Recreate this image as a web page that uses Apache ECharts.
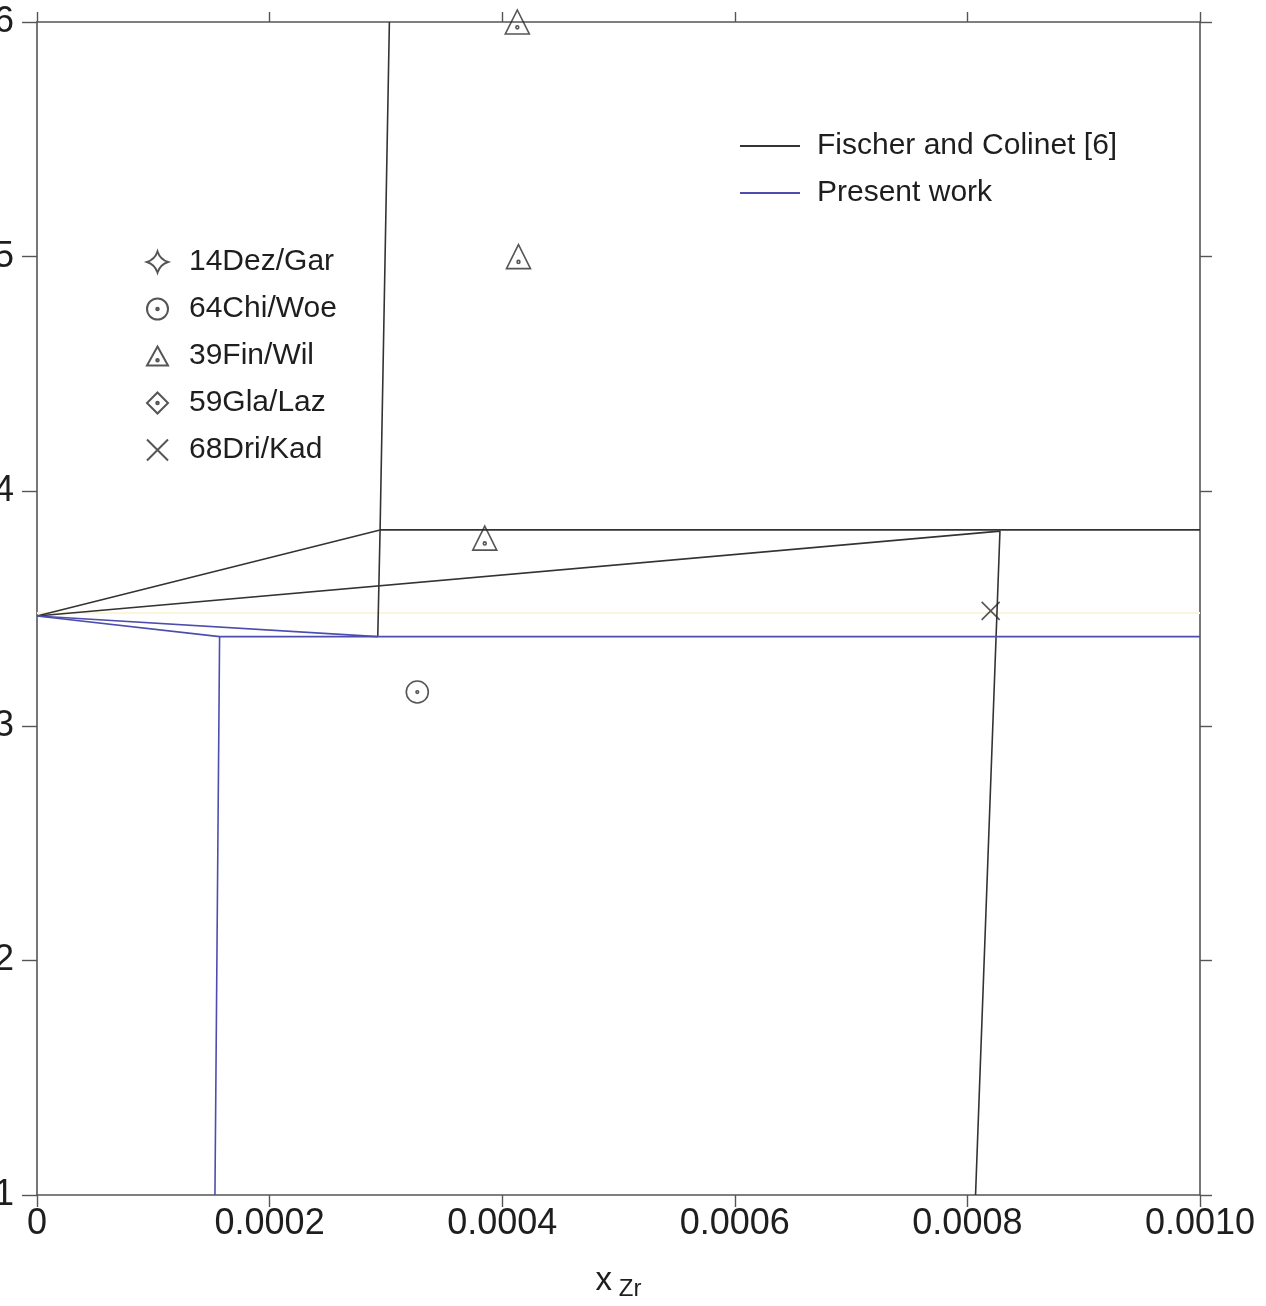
<!DOCTYPE html>
<html lang="en">
<head>
    <meta charset="UTF-8">
    <title>x Zr</title>
    <script src="https://cdn.jsdelivr.net/npm/echarts@6/dist/echarts.min.js"></script>
    <style>
        html, body { margin: 0; padding: 0; background: #fff; }
        #chart { width: 1266px; height: 1306px; }
    </style>
</head>
<body>
<div id="chart"></div>
<script type="text/javascript">
    // axis ticks
    var xTicks = [0, 0.0002, 0.0004, 0.0006, 0.0008, 0.0010];
    var yTicks = [1, 2, 3, 4, 5, 6];

    // Fischer and Colinet [6] - phase boundaries
    var fcVertical = [[0.000303, 6.0], [0.000295, 3.835], [0.000293, 3.38]];
    var fcUpper = [[0, 3.468], [0.000295, 3.835], [0.0010, 3.835]];
    var fcMiddle = [[0, 3.468], [0.000828, 3.83], [0.000807, 1.0]];

    // Present work
    var pwLower = [[0, 3.468], [0.000293, 3.38]];
    var pwLeft = [[0, 3.468], [0.000157, 3.38], [0.000153, 1.0]];
    var pwFlat = [[0.000157, 3.38], [0.0010, 3.38]];

    // faint line near 3.48
    var faintLine = [[0, 3.481], [0.0010, 3.481]];

    // experimental points
    var dezGar = [];
    var chiWoe = [[0.000327, 3.144]];
    var finWil = [[0.000413, 6.0], [0.000414, 5.0], [0.000385, 3.80]];
    var glaLaz = [];
    var driKad = [[0.000820, 3.49]];

    var lineNames = ['Fischer and Colinet [6]', 'Present work'];
    var pointNames = ['14Dez/Gar', '64Chi/Woe', '39Fin/Wil', '59Gla/Laz', '68Dri/Kad'];

    var symStar = 'path://M0,-10 Q2.5,-2.5 10,0 Q2.5,2.5 0,10 Q-2.5,2.5 -10,0 Q-2.5,-2.5 0,-10Z';
    var symCircleDot = 'path://M0,-10A10,10 0 1,1 0,10A10,10 0 1,1 0,-10Z M0,-1.2A1.2,1.2 0 1,1 0,1.2A1.2,1.2 0 1,1 0,-1.2Z';
    var symTriDot = 'path://M0,-10L10,8L-10,8Z M0,1.8A1.2,1.2 0 1,1 0,4.2A1.2,1.2 0 1,1 0,1.8Z';
    var symDiamondDot = 'path://M0,-10L10,0L0,10L-10,0Z M0,-1.2A1.2,1.2 0 1,1 0,1.2A1.2,1.2 0 1,1 0,-1.2Z';
    var symCross = 'path://M-8,-8L8,8M8,-8L-8,8';

    var darkLine = '#333333';
    var blueLine = '#4d4db0';
    var textColor = '#1e1e1e';
    var font = "'Liberation Sans', Arial, sans-serif";

    var myChart = echarts.init(document.getElementById('chart'));

    function lineSeries(name, data, color) {
        return {
            name: name,
            type: 'line',
            data: data,
            symbol: 'none',
            silent: true,
            lineStyle: { color: color, width: 1.6 },
            itemStyle: { color: color },
            z: 3
        };
    }

    function pointSeries(name, data, symbol, size) {
        return {
            name: name,
            type: 'scatter',
            data: data,
            symbol: symbol,
            symbolSize: size,
            clip: true,
            itemStyle: { color: 'rgba(0,0,0,0)', borderColor: '#2a2a2a', borderWidth: 1.6 },
            z: 5
        };
    }

    function frameAxis(pos, len) {
        return {
            type: 'value',
            position: pos,
            axisLine: { show: true, onZero: false, lineStyle: { color: '#555', width: 1.6 } },
            axisTick: { show: true, inside: false, length: len, lineStyle: { color: '#555', width: 1.4 } },
            axisLabel: { show: false },
            splitLine: { show: false }
        };
    }

    var xBottom = frameAxis('bottom', 12);
    xBottom.min = xTicks[0];
    xBottom.max = xTicks[xTicks.length - 1];
    xBottom.interval = 0.0002;
    xBottom.name = '{x|x}  {s|Zr}';
    xBottom.nameLocation = 'middle';
    xBottom.nameGap = 66;
    xBottom.nameTextStyle = {
        rich: {
            x: { fontSize: 33, color: textColor, fontFamily: font },
            s: { fontSize: 24, color: textColor, fontFamily: font, padding: [16, 0, 0, 0] }
        }
    };
    xBottom.axisLabel = {
        show: true,
        fontSize: 36,
        margin: 11,
        color: textColor,
        formatter: function (v) { return v === 0 ? '0' : v.toFixed(4); }
    };

    var xTop = frameAxis('top', 10);
    xTop.min = xTicks[0];
    xTop.max = xTicks[xTicks.length - 1];
    xTop.interval = 0.0002;

    var yLeft = frameAxis('left', 15);
    yLeft.min = yTicks[0];
    yLeft.max = yTicks[yTicks.length - 1];
    yLeft.interval = 1;
    yLeft.axisLabel = { show: true, fontSize: 36, margin: 23, color: textColor };

    var yRight = frameAxis('right', 12);
    yRight.min = yTicks[0];
    yRight.max = yTicks[yTicks.length - 1];
    yRight.interval = 1;

    var option = {
        backgroundColor: '#ffffff',
        animation: false,
        textStyle: { fontFamily: font, color: textColor },
        grid: { left: 37, right: 66, top: 22, bottom: 111, outerBoundsMode: 'none' },
        legend: [{
            data: lineNames,
            orient: 'vertical',
            left: 735,
            top: 126,
            icon: 'rect',
            itemWidth: 60,
            itemHeight: 2,
            itemGap: 17,
            selectedMode: false,
            textStyle: { fontSize: 30, color: textColor, fontFamily: font, padding: [0, 0, 0, 12] }
        }, {
            data: pointNames,
            orient: 'vertical',
            left: 141,
            top: 242,
            itemWidth: 21,
            itemHeight: 21,
            itemGap: 17,
            selectedMode: false,
            textStyle: { fontSize: 30, color: textColor, fontFamily: font, padding: [0, 0, 0, 16] }
        }],
        xAxis: [xBottom, xTop],
        yAxis: [yLeft, yRight],
        series: [
            {
                type: 'line',
                data: faintLine,
                symbol: 'none',
                silent: true,
                lineStyle: { color: '#fbf5dc', width: 2 },
                z: 1
            },
            lineSeries(lineNames[0], fcVertical, darkLine),
            lineSeries(lineNames[0], fcUpper, darkLine),
            lineSeries(lineNames[0], fcMiddle, darkLine),
            lineSeries(lineNames[1], pwLower, blueLine),
            lineSeries(lineNames[1], pwLeft, blueLine),
            lineSeries(lineNames[1], pwFlat, blueLine),
            pointSeries(pointNames[0], dezGar, symStar, 20),
            pointSeries(pointNames[1], chiWoe, symCircleDot, 22),
            pointSeries(pointNames[2], finWil, symTriDot, 24),
            pointSeries(pointNames[3], glaLaz, symDiamondDot, 22),
            pointSeries(pointNames[4], driKad, symCross, 18)
        ]
    };
    myChart.setOption(option);
</script>
</body>
</html>
